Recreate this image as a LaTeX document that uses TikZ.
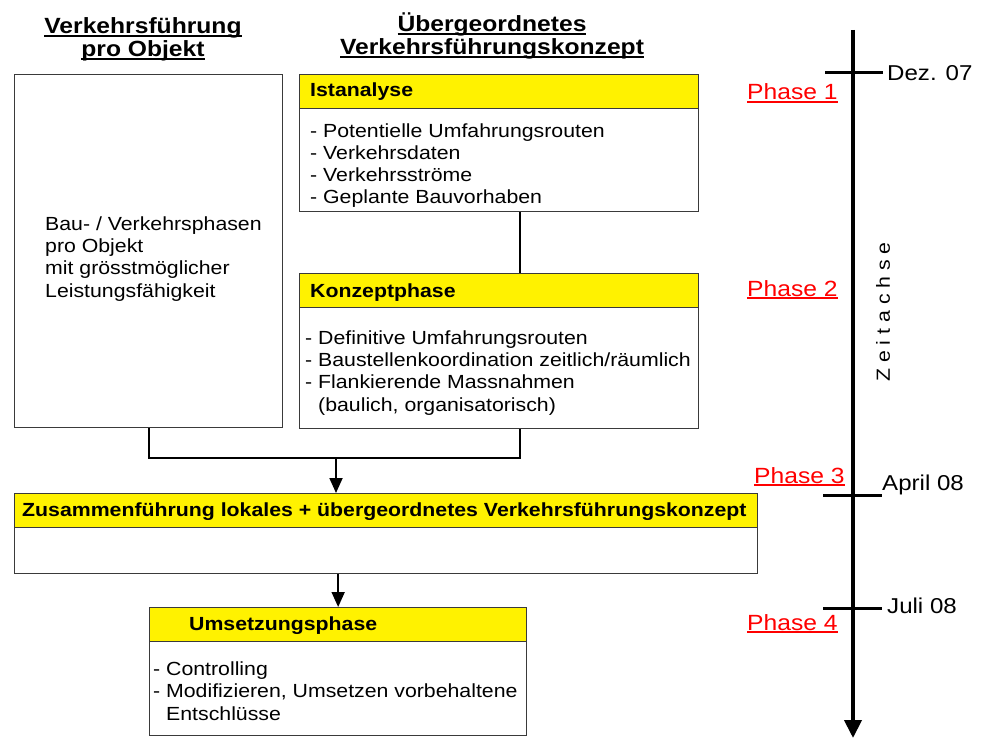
\documentclass[tikz,border=0pt]{standalone}
\usepackage{fontspec}
\setmainfont{Liberation Sans}[FakeStretch=1.12]
\usetikzlibrary{arrows.meta}
\definecolor{rahmen}{HTML}{3A3A3A}
\newcommand{\ustr}[1]{\setbox0\hbox{#1}\rlap{\rule[-2.6pt]{\wd0}{1.6pt}}\box0}

\begin{document}
\begin{tikzpicture}[x = 1pt, y = -1pt,
  kasten/.style = {draw = rahmen, line width = 1.3pt, anchor = north west, inner sep = 0},
  kopf/.style = {kasten, fill = yellow},
  txt/.style = {anchor = base west, inner sep = 0, align = left, font = \fontsize{19}{22.3}\selectfont},
  fett/.style = {txt, font = \fontsize{19}{22.3}\selectfont\bfseries},
  titel/.style = {anchor = base, inner sep = 0, align = center, font = \fontsize{22}{23}\selectfont\bfseries},
  datum/.style = {txt, font = \fontsize{21.5}{24}\selectfont},
  phase/.style = {txt, text = red, font = \fontsize{22}{24}\selectfont},
  verbinder/.style = {line width = 1.8pt},
  pfeil/.style = {verbinder, -{Triangle[width = 13pt, length = 15pt]}},
  strich/.style = {line width = 3pt}]
\useasboundingbox (0,0) rectangle (984,738);

% Ueberschriften (base = letzte Zeile)
\node[titel] (t-objekt) at (143,57) {\ustr{Verkehrsführung}\\\ustr{pro Objekt}};
\node[titel] (t-konzept) at (492,55) {\ustr{Übergeordnetes}\\\ustr{Verkehrsführungskonzept}};

% Kaesten
\node[kasten, minimum width = 268, minimum height = 353] (objekt) at (14,74) {};
\node[txt] at (45,297) {Bau- / Verkehrsphasen\\pro Objekt\\mit grösstmöglicher\\Leistungsfähigkeit};

\node[kasten, minimum width = 399, minimum height = 137] (ist) at (299,74) {};
\node[kopf, minimum width = 399, minimum height = 34] (ist-kopf) at (299,74) {};
\node[fett] at (310,97) {Istanalyse};
\node[txt] at (310,204) {- Potentielle Umfahrungsrouten\\- Verkehrsdaten\\- Verkehrsströme\\- Geplante Bauvorhaben};

\node[kasten, minimum width = 399, minimum height = 155] (konzept) at (299,273) {};
\node[kopf, minimum width = 399, minimum height = 34] (konzept-kopf) at (299,273) {};
\node[fett] at (310,297) {Konzeptphase};
\node[txt] at (305,411) {- Definitive Umfahrungsrouten\\- Baustellenkoordination zeitlich/räumlich\\- Flankierende Massnahmen\\\phantom{- }(baulich, organisatorisch)};

\node[kasten, minimum width = 743, minimum height = 80] (zusammen) at (14,493) {};
\node[kopf, minimum width = 743, minimum height = 34] (zusammen-kopf) at (14,493) {};
\node[fett] at (22,516) {Zusammenführung lokales + übergeordnetes Verkehrsführungskonzept};

\node[kasten, minimum width = 377, minimum height = 128] (umsetz) at (149,607) {};
\node[kopf, minimum width = 377, minimum height = 34] (umsetz-kopf) at (149,607) {};
\node[fett] at (189,630) {Umsetzungsphase};
\node[txt] at (153,720) {- Controlling\\- Modifizieren, Umsetzen vorbehaltene\\\phantom{- }Entschlüsse};

% Verbindungen
\coordinate (knoten) at (520,458);
\coordinate (abzweig) at (336,458);
\draw[verbinder] (ist.south -| knoten) -- (konzept.north -| knoten);
\draw[verbinder] (objekt.south) |- (knoten) -- (konzept.south -| knoten);
\draw[pfeil] (abzweig) -- (abzweig |- zusammen.north);
\draw[pfeil] (zusammen.south -| umsetz.north) -- (umsetz.north);

% Zeitachse
\coordinate (achse-oben) at (853,30);
\coordinate (achse-unten) at (853,738);
\draw[line width = 4pt, -{Triangle[width = 17pt, length = 18pt]}] (achse-oben) -- (achse-unten);
\draw[strich] (825,73) -- (883,73);
\draw[strich] (823,495) -- (882,495);
\draw[strich] (823,608) -- (882,608);
\node[datum] (dez) at (887,81) {Dez. 07};
\node[datum] (april) at (882,490) {April 08};
\node[datum] (juli) at (887,613) {Juli 08};
\node[phase] (phase1) at (747,100) {\ustr{Phase 1}};
\node[phase] (phase2) at (747,296) {\ustr{Phase 2}};
\node[phase] (phase3) at (754,483) {\ustr{Phase 3}};
\node[phase] (phase4) at (747,630) {\ustr{Phase 4}};
\node[txt, rotate = 90, anchor = center] (zeitachse) at (883,312) {Z e i t a c h s e};

\end{tikzpicture}
\end{document}
